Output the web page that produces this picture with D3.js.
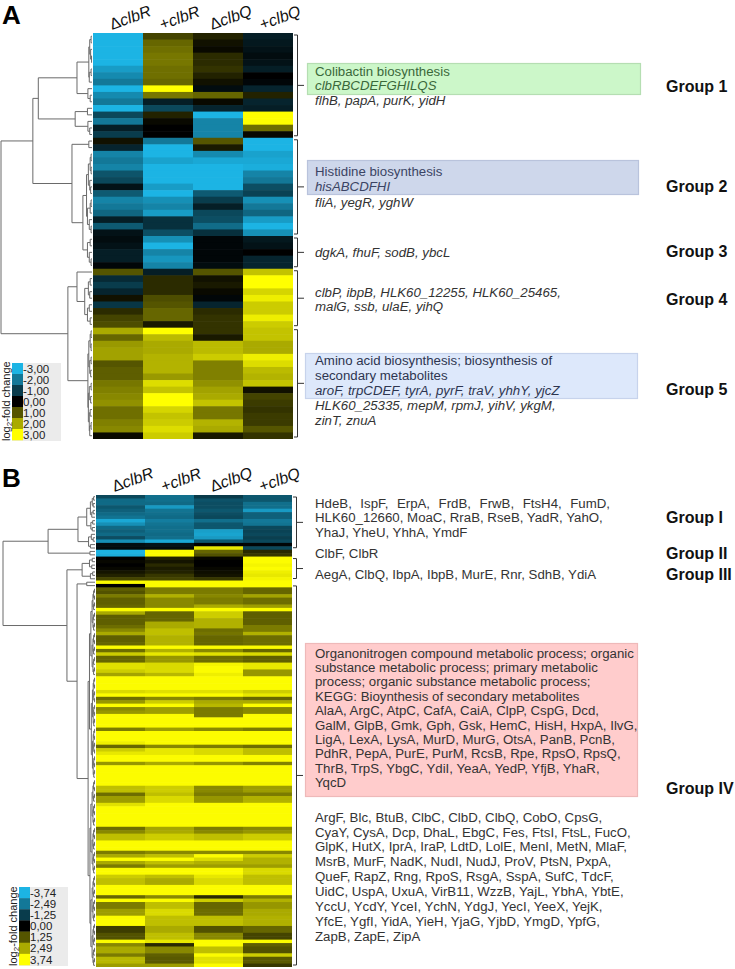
<!DOCTYPE html>
<html><head><meta charset="utf-8">
<script src="https://cdn.jsdelivr.net/npm/d3@7"></script>
<style>
body{margin:0;background:#fff}
svg{display:block}
text{font-family:"Liberation Sans",Arial,Helvetica,sans-serif}
</style>
</head><body>
<svg id="c" width="735" height="969"></svg>
<script>
// ---------------- DATA ----------------
const conditions = ["ΔclbR","+clbR","ΔclbQ","+clbQ"];

// Panel A: log2-fold change per gene row (top to bottom), one array per condition
const aDeltaClbR = [-3,-3,-3,-3,-3,-2.6,-2.3,-2.0,-3,-2.3,-2.0,-3,-1.2,-2.0,-0.5,-1.0,
 0.2,-0.6,-2.2,-2.0,-2.2,-1.4,-1.2,-0.3,-1.5,-2.2,-2.0,-1.7,-0.5,-1.5,-0.3,
 -0.2,-0.3,-0.5,-0.5,-0.1,
 1.0,-0.7,-1.0,-0.6,0.2,-0.9,0.5,0.8,0.9,
 2.0,1.2,1.8,1.9,1.9,1.0,1.1,1.1,1.4,1.5,1.6,1.7,1.3,1.3,1.5,1.6,0.1];
const aPlusClbR = [0.8,1.2,1.3,1.4,1.4,1.3,1.3,1.2,3.0,1.4,-0.5,-1.2,0.4,0.1,0.0,0.0,
 -2.0,-3,-3,-2.7,-3,-3,-3,-2.6,-3,-2.4,-2.2,-2.6,-0.8,-0.8,-1.3,
 -2.4,-3,-2.2,-2.5,-2.2,
 -0.5,0.5,0.5,0.5,0.9,1.0,1.2,1.2,0.3,
 3.0,2.2,2.0,2.0,2.1,2.1,2.1,1.8,2.6,2.3,3.0,3.0,2.5,2.3,2.4,2.6,2.4];
const aDeltaClbQ = [0.4,0.2,0.1,0.5,0.5,0.6,0.4,0.2,-0.2,1.2,0.1,-0.6,-3,-2.2,-2.2,-2.2,
 1.0,0.3,-2.3,-2.8,-3,-3,-3,-3,-1.5,-1.0,-0.5,-1.2,-1.3,-1.8,-0.8,
 -0.1,-0.1,-0.1,-0.1,-0.2,
 1.0,0.2,0.3,0.1,-0.1,-0.6,0.5,0.6,0.6,
 0.6,0.3,2.2,2.2,2.4,1.5,1.5,1.5,1.7,1.9,2.0,2.3,1.4,1.4,2.1,2.0,0.3];
const aPlusClbQ = [-0.5,-0.4,-0.3,-0.2,-0.3,-0.5,0.0,-0.1,-0.6,0.4,-0.6,-0.5,3.0,3.0,1.3,0.1,
 -3,-3,-2.7,-2.8,-2.9,-2.2,-2.0,-1.3,-1.1,-2.4,-2.0,-1.7,-2.6,-3,-2.4,
 -0.4,-0.3,0.0,-0.6,-0.6,
 2.3,3.0,3.0,2.5,2.8,2.4,2.4,2.8,2.4,
 2.3,2.3,2.0,2.0,2.8,2.6,2.2,2.1,2.3,0.2,0.8,0.7,0.6,0.7,0.7,1.0,0.6];

// Panel B: log2-fold change per protein row
const bDeltaClbR = [-1.5,-2.2,-2.2,-1.8,-2.0,-2.2,-2.4,-3.5,-3.0,-2.2,
 -2.0,-2.2,-1.6,-3.0,-0.3,-0.2,-3.7,-3.6,0.0,0.1,
 0.0,0.1,0.3,0.5,1.0,3.7,0.0,1.4,1.2,1.8,
 1.4,1.4,1.5,3.7,2.5,1.4,1.4,1.4,1.6,2.0,
 2.5,1.4,1.4,1.5,3.7,1.6,3.0,1.5,1.5,3.3,
 3.3,3.0,2.4,3.7,3.7,3.7,3.7,3.2,3.7,1.6,
 2.2,3.7,2.0,2.2,3.7,3.7,3.7,3.7,1.8,3.7,
 3.7,3.7,3.5,1.5,3.0,3.4,3.7,3.7,2.2,3.7,
 3.7,3.7,3.7,3.7,3.7,2.8,2.8,1.6,2.3,2.3,
 3.3,3.7,3.7,3.7,3.7,3.7,3.7,1.6,2.0,2.8,
 2.8,3.7,3.7,3.7,1.8,2.5,3.7,2.5,1.8,3.7,
 3.7,3.0,2.8,2.8,3.7,3.7,3.7,1.5,3.7,1.8,
 1.8,2.3,2.3,3.7,3.7,3.7,0.9,0.9,1.2,1.2,
 3.7,2.0,2.5,2.5,1.8,2.7,2.7,2.3];
const bPlusClbR = [-2.3,-2.3,-2.2,-3.2,-2.4,-2.3,-2.2,-2.6,-2.4,-2.3,
 -2.3,-2.2,-2.3,-3.5,-0.4,-0.2,3.7,3.7,0.5,0.3,
 0.6,0.4,0.5,0.8,1.0,3.7,3.7,1.8,1.8,2.6,
 2.0,2.0,2.0,3.7,1.5,1.5,1.5,2.5,2.5,2.8,
 2.8,2.6,2.6,2.6,3.7,2.6,3.4,2.2,2.2,3.2,
 3.2,3.2,2.7,3.7,3.7,3.7,3.7,3.3,3.7,2.0,
 3.0,3.7,2.3,2.3,3.7,3.7,3.7,3.7,2.3,3.7,
 3.7,3.7,3.7,2.0,3.4,3.4,3.7,3.7,2.5,3.7,
 3.7,3.7,3.7,3.7,3.7,3.0,3.0,2.8,3.2,3.2,
 3.7,3.7,3.7,3.7,3.7,3.7,3.7,2.4,2.5,3.0,
 3.0,3.7,3.7,3.7,2.0,2.8,3.7,2.8,2.3,3.7,
 3.7,2.8,2.5,2.5,3.7,3.7,3.7,2.0,3.7,2.8,
 2.8,3.2,3.2,2.8,2.8,2.8,2.5,2.5,2.8,2.8,
 3.4,0.6,2.0,2.0,1.4,1.3,1.3,2.3];
const bDeltaClbQ = [-1.2,-1.7,-1.6,-1.6,-1.8,-1.6,-1.5,-2.3,-1.8,-1.8,
 -3.3,-3.4,-3.2,-1.8,0.0,3.4,1.5,1.2,0.1,0.0,
 0.0,0.1,0.2,0.3,0.8,3.7,3.7,1.8,1.8,2.0,
 1.8,1.8,2.5,3.7,3.0,3.0,2.6,2.6,2.6,1.6,
 1.7,1.5,1.5,1.5,3.7,2.0,3.3,1.6,1.6,3.6,
 3.7,3.7,3.5,3.7,3.7,3.7,3.7,3.3,3.7,1.8,
 2.5,2.7,1.8,1.8,1.8,3.7,3.7,3.7,2.0,3.7,
 3.7,3.7,3.7,1.8,3.2,3.2,3.7,3.7,2.2,3.7,
 3.7,3.7,3.7,3.7,3.7,2.0,2.0,1.8,2.2,2.2,
 3.7,3.7,3.7,3.7,3.7,3.7,3.7,1.8,2.0,2.8,
 2.8,3.7,3.7,3.7,2.0,3.7,3.2,2.6,2.3,3.7,
 3.7,3.4,3.2,3.2,3.7,3.7,3.7,0.6,3.0,1.5,
 1.5,1.6,1.6,2.8,2.8,2.8,1.2,1.2,2.0,2.0,
 3.7,3.7,2.8,2.8,3.7,3.3,3.3,3.7];
const bPlusClbQ = [-1.8,-1.8,-2.3,-2.3,-3.2,-2.0,-2.0,-2.5,-2.4,-1.5,
 -1.4,-1.5,-1.3,-1.5,-0.1,-1.5,0.6,0.8,3.7,3.7,
 3.6,3.7,3.5,3.4,3.6,3.7,3.7,1.5,1.5,2.4,
 1.6,1.6,2.3,3.7,1.4,1.4,1.4,1.4,1.8,1.8,
 2.6,1.6,1.6,1.6,3.7,1.5,3.2,1.4,1.4,3.4,
 3.4,2.2,2.2,3.7,3.7,3.7,3.7,3.0,3.4,1.5,
 2.5,3.7,2.0,2.0,3.7,3.7,3.7,3.7,1.8,3.7,
 3.7,3.7,3.7,1.6,2.8,2.8,3.7,3.7,1.9,3.7,
 3.7,3.7,3.7,3.7,3.7,2.3,2.3,1.8,2.6,2.6,
 3.7,3.7,3.7,3.7,3.7,3.7,3.7,2.0,2.2,3.0,
 3.0,3.7,3.7,3.7,2.0,3.0,2.6,2.6,2.3,3.2,
 3.2,2.8,2.8,2.8,3.7,3.7,3.7,1.8,2.6,2.2,
 2.2,2.5,2.5,2.6,2.6,2.6,1.5,1.5,1.0,1.0,
 3.7,1.4,1.2,1.2,3.0,1.3,1.3,0.8];

// Legend tick labels
const legendAValues = [-3,-2,-1,0,1,2,3];
const legendALabels = ["-3,00","-2,00","-1,00","0,00","1,00","2,00","3,00"];
const legendBValues = [-3.74,-2.49,-1.25,0,1.25,2.49,3.74];
const legendBLabels = ["-3,74","-2,49","-1,25","0,00","1,25","2,49","3,74"];

// Cluster groups (row index ranges)
const groupsA = [["Group 1",0,15],["Group 2",16,30],["Group 3",31,35],["Group 4",36,44],["Group 5",45,61]];
const groupsB = [["Group I",0,15],["Group II",16,17],["Group III",18,24],["Group IV",26,137]];

// Dendrograms: [mergeHeight, left, right]; leaves are row indices; {range,h} = tight cluster
const treeA = [10,
  [6.5,
    [5.9,
      [1.65, [0.35, [0.25,[0.1,0,1],[0.15,2,[0.05,3,4]]], [0.3,[0.1,5,6],7]], [0.45,8,[0.2,9,10]]],
      [1.85, [0.5,11,12], [0.45,13,[0.25,14,15]]]
    ],
    [2.2,
      [0.35,16,17],
      [1.0,
        [0.6, [0.4,[0.2,[0.1,18,19],[0.1,20,21]],[0.25,22,[0.15,23,24]]], [0.5,[0.2,[0.1,25,26],27],[0.3,28,[0.1,29,30]]]],
        [0.5, [0.2,31,32], [0.3,33,[0.1,34,35]]]
      ]
    ]
  ],
  [2.65,
    [1.65, 36, [0.8,[0.4,[0.2,37,38],[0.25,39,40]],[0.5,[0.3,41,42],[0.2,43,44]]]],
    [0.45, [0.35,[0.2,[0.1,45,46],[0.1,47,48]],[0.25,[0.1,49,50],[0.15,51,52]]],
           [0.4,[0.3,[0.1,53,54],[0.15,55,56]],[0.3,[0.2,57,58],[0.25,[0.1,59,60],61]]]]
  ]
];
const treeB = [10,
  [5.1,
    [1.85, [0.9, [0.5,[0.3,[0.15,0,1],[0.2,2,3]],[0.35,[0.2,4,5],6]], [0.45,[0.25,7,8],[0.3,9,10]]],
           [0.7,[0.4,11,[0.2,12,13]],[0.5,14,15]]],
    [0.55,16,17]
  ],
  [3.05,
    [1.4, [0.6,[0.3,18,19],[0.35,20,21]], [0.5,[0.25,22,23],24]],
    [1.95, [0.9,25,26],
      [0.75, [0.6,{range:[27,52],h:0.45},{range:[53,82],h:0.4}], [0.55,{range:[83,110],h:0.45},{range:[111,137],h:0.45}]]]
  ]
];

// Annotation texts
const txtA1Box = ["Colibactin biosynthesis","clbRBCDEFGHILQS"];
const txtA1 = ["flhB, papA, purK, yidH"];
const txtA2Box = ["Histidine biosynthesis","hisABCDFHI"];
const txtA2 = ["fliA, yegR, yghW"];
const txtA3 = ["dgkA, fhuF, sodB, ybcL"];
const txtA4 = ["clbP, ibpB, HLK60_12255, HLK60_25465,","malG, ssb, ulaE, yihQ"];
const txtA5Box = ["Amino acid biosynthesis; biosynthesis of","secondary metabolites","aroF, trpCDEF, tyrA, pyrF, traV, yhhY, yjcZ"];
const txtA5 = ["HLK60_25335, mepM, rpmJ, yihV, ykgM,","zinT, znuA"];
const txtB1 = ["HdeB, IspF, ErpA, FrdB, FrwB, FtsH4, FumD,","HLK60_12660, MoaC, RraB, RseB, YadR, YahO,","YhaJ, YheU, YhhA, YmdF"];
const txtB2 = ["ClbF, ClbR"];
const txtB3 = ["AegA, ClbQ, IbpA, IbpB, MurE, Rnr, SdhB, YdiA"];
const txtB4Box = ["Organonitrogen compound metabolic process; organic",
 "substance metabolic process; primary metabolic",
 "process; organic substance metabolic process;",
 "KEGG: Bioynthesis of secondary metabolites",
 "AlaA, ArgC, AtpC, CafA, CaiA, ClpP, CspG, Dcd,",
 "GalM, GlpB, Gmk, Gph, Gsk, HemC, HisH, HxpA, IlvG,",
 "LigA, LexA, LysA, MurD, MurG, OtsA, PanB, PcnB,",
 "PdhR, PepA, PurE, PurM, RcsB, Rpe, RpsO, RpsQ,",
 "ThrB, TrpS, YbgC, YdiI, YeaA, YedP, YfjB, YhaR,",
 "YqcD"];
const txtB4 = ["ArgF, Blc, BtuB, ClbC, ClbD, ClbQ, CobO, CpsG,",
 "CyaY, CysA, Dcp, DhaL, EbgC, Fes, FtsI, FtsL, FucO,",
 "GlpK, HutX, IprA, IraP, LdtD, LolE, MenI, MetN, MlaF,",
 "MsrB, MurF, NadK, NudI, NudJ, ProV, PtsN, PxpA,",
 "QueF, RapZ, Rng, RpoS, RsgA, SspA, SufC, TdcF,",
 "UidC, UspA, UxuA, VirB11, WzzB, YajL, YbhA, YbtE,",
 "YccU, YcdY, YceI, YchN, YdgJ, YecI, YeeX, YejK,",
 "YfcE, YgfI, YidA, YieH, YjaG, YjbD, YmgD, YpfG,",
 "ZapB, ZapE, ZipA"];

// ---------------- DRAWING ----------------
const svg = d3.select("#c");
const BLUE = "#1cb4e4", YEL = "#ffff00";
const FS = 13.25;

function expand(node){
  if (typeof node === "number") return node;
  if (node.range) return balanced(node.range[0], node.range[1], node.h);
  return [node[0], expand(node[1]), expand(node[2])];
}
function balanced(a,b,h){
  if (a===b) return a;
  if (b===a+1) return [h*0.5,a,b];
  const m = Math.floor((a+b)/2);
  return [h, balanced(a,m,h*0.7), balanced(m+1,b,h*0.7)];
}

function panel(cfg){
  const n = cfg.values[0].length;
  const x = d3.scaleBand().domain(conditions).range([cfg.left,cfg.right]);
  const y = d3.scaleBand().domain(d3.range(n)).range([cfg.top,cfg.bottom]);
  const color = d3.scaleLinear().domain([-cfg.max,0,cfg.max]).range([BLUE,"#000000",YEL]).clamp(true);
  const g = svg.append("g");
  conditions.forEach((c,ci)=>{
    g.append("g").selectAll("rect").data(cfg.values[ci]).join("rect")
      .attr("x", x(c)).attr("width", x.bandwidth())
      .attr("y", (d,i)=>y(i)).attr("height", (d,i)=> i<n-1 ? y.bandwidth()+0.6 : y.bandwidth())
      .attr("fill", d=>color(d));
  });
  // column labels
  conditions.forEach(c=>{
    const t = g.append("text")
      .attr("transform", `translate(${x(c)+x.bandwidth()/2-6},${cfg.top-3}) rotate(-20)`)
      .attr("font-size", 16).attr("fill","#111");
    t.append("tspan").text(c[0]);
    t.append("tspan").attr("font-style","italic").text(c.slice(1));
  });
  // dendrogram
  const hx = d3.scaleLinear().domain([0,10]).range([cfg.left-1, cfg.rootX]);
  let path = "";
  function rec(nd){
    if (typeof nd === "number") return {x: cfg.left-1, y: y(nd)+y.bandwidth()/2};
    const A = rec(nd[1]), B = rec(nd[2]);
    const xx = hx(nd[0]);
    path += `M${A.x},${A.y}H${xx}V${B.y}H${B.x}`;
    return {x: xx, y: (A.y+B.y)/2};
  }
  rec(expand(cfg.tree));
  g.append("path").attr("d", path).attr("fill","none").attr("stroke","#6a6a6a").attr("stroke-width",1);
  // brackets
  const bx0 = cfg.right+1, bx1 = cfg.right+4.5, bx2 = cfg.right+11;
  cfg.groups.forEach(([name,s,e])=>{
    if (cfg.noBracket && cfg.noBracket.includes(name)) return;
    const y1 = y(s)+2, y2 = y(e)+y.bandwidth()-2, ym = (y1+y2)/2;
    g.append("path").attr("d", `M${bx0},${y1}H${bx1}V${y2}H${bx0}M${bx1},${ym}H${bx2}`)
      .attr("fill","none").attr("stroke","#333").attr("stroke-width",1);
  });
  // legend
  const lg = svg.append("g");
  const sh = cfg.legH/7;
  lg.append("rect").attr("x",cfg.legX).attr("y",cfg.legY).attr("width",49).attr("height",cfg.legH+1).attr("fill","#ebebeb");
  lg.selectAll("rect.sw").data(cfg.legVals).join("rect").attr("class","sw")
    .attr("x",cfg.legX).attr("y",(d,i)=>cfg.legY+i*sh).attr("width",11).attr("height",sh+0.3)
    .attr("fill",d=>color(d));
  lg.selectAll("text.lb").data(cfg.legLabels).join("text").attr("class","lb")
    .attr("x",cfg.legX+11).attr("y",(d,i)=>cfg.legY+i*sh+sh/2).attr("dy","0.36em")
    .attr("font-size",11.5).attr("fill","#222").text(d=>d);
  const lt = lg.append("text").attr("transform",`translate(${cfg.legX-2.5},${cfg.legY+cfg.legH+1}) rotate(-90)`)
    .attr("font-size",11).attr("fill","#222");
  lt.append("tspan").text("log");
  lt.append("tspan").attr("font-size",8).attr("dy",2.5).text("2");
  lt.append("tspan").attr("dy",-2.5).text("-fold change");
  return {x,y};
}

panel({values:[aDeltaClbR,aPlusClbR,aDeltaClbQ,aPlusClbQ], left:93, right:293, top:33, bottom:439, max:3,
  tree:treeA, rootX:1, groups:groupsA, legX:12, legY:363, legH:77, legVals:legendAValues, legLabels:legendALabels});
panel({values:[bDeltaClbR,bPlusClbR,bDeltaClbQ,bPlusClbQ], left:96, right:292, top:495, bottom:967, max:3.74,
  tree:treeB, rootX:3, groups:groupsB, noBracket:["Group II"], legX:19, legY:887, legH:78, legVals:legendBValues, legLabels:legendBLabels});

// panel letters
svg.append("text").attr("x",2).attr("y",24).attr("font-size",26).attr("font-weight","bold").text("A");
svg.append("text").attr("x",2).attr("y",487).attr("font-size",26).attr("font-weight","bold").text("B");

// text boxes
function box(x,y,w,h,fill,stroke){
  svg.append("rect").attr("x",x+0.5).attr("y",y+0.5).attr("width",w).attr("height",h)
    .attr("fill",fill).attr("stroke",stroke).attr("stroke-width",1.2);
}
function lines(arr,x,y0,step,opt){
  opt = opt||{};
  arr.forEach((t,i)=>{
    const it = Array.isArray(opt.italic) ? opt.italic[i] : !!opt.italic;
    const el = svg.append("text").attr("x",x).attr("y",y0+i*step).attr("dy","0.35em")
      .attr("font-size",FS).attr("fill",opt.color||"#333")
      .attr("font-style", it?"italic":"normal").text(t);
    if (opt.justify && opt.justify[i]) {
      const w = el.node().getComputedTextLength();
      const ns = (t.match(/ /g)||[]).length;
      el.attr("word-spacing", (opt.justify[i]-w)/ns);
    }
  });
}
const TX = 315;
box(307,63,333,31,"#ccf7c9","#b5deb2");
lines(txtA1Box,TX,71,14.5,{italic:[false,true],color:"#3a683a"});
lines(txtA1,TX,100,14.5,{italic:true});
box(307,160,331,34,"#ced7eb","#b9c3dc");
lines(txtA2Box,TX,171.5,15,{italic:[false,true],color:"#3b4464"});
lines(txtA2,TX,202,15,{italic:true});
lines(txtA3,TX,252,15,{italic:true});
lines(txtA4,TX,292,14.7,{italic:true});
box(305,353,332,45,"#dde8fb","#c7d3ec");
lines(txtA5Box,TX,360.5,14.8,{italic:[false,false,true],color:"#2d3550"});
lines(txtA5,TX,405.5,14.7,{italic:true});

lines(txtB1,TX,503,14.5,{justify:[295]});
lines(txtB2,TX,553,14.5);
lines(txtB3,TX,574,14.5);
box(305,643,332,153,"#ffcccc","#eeb9b9");
lines(txtB4Box,TX,653,14.4);
lines(txtB4,TX,817,14.9);

// group labels
const gyA = [86,186.5,251,299.5,389];
groupsA.forEach((gr,i)=> svg.append("text").attr("x",666).attr("y",gyA[i]).attr("dy","0.35em")
  .attr("font-size",16).attr("font-weight","bold").attr("fill","#111").text(gr[0]));
const gyB = [517,553,574,788];
groupsB.forEach((gr,i)=> svg.append("text").attr("x",666).attr("y",gyB[i]).attr("dy","0.35em")
  .attr("font-size",16).attr("font-weight","bold").attr("fill","#111").text(gr[0]));
</script>
</body></html>
